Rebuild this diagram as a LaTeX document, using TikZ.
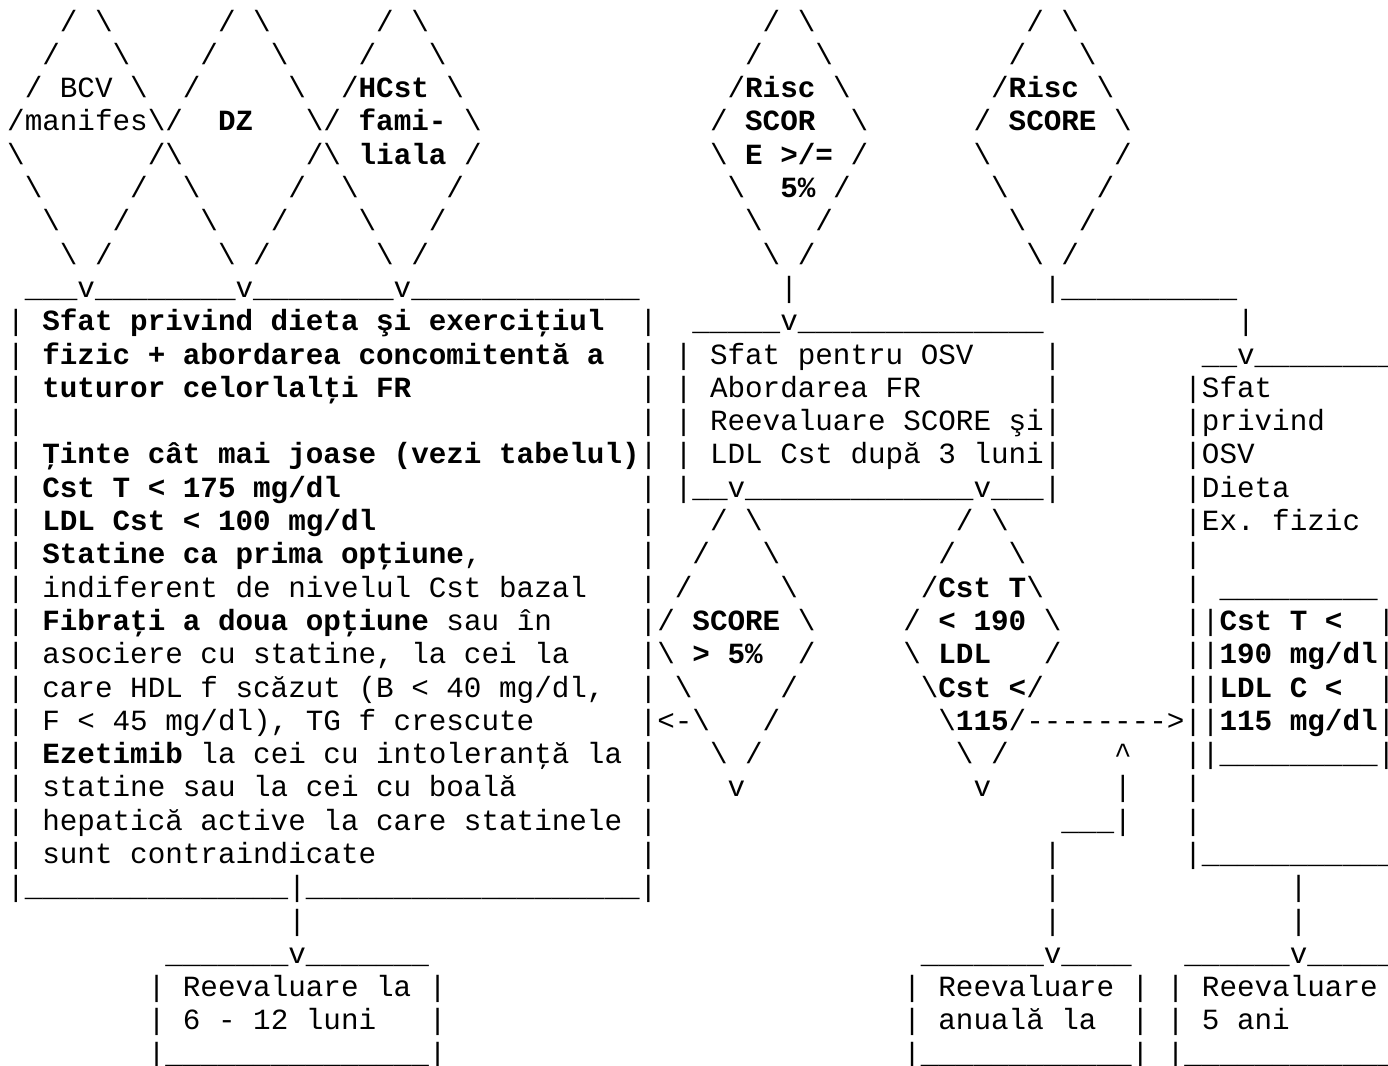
\documentclass[tikz,border=0pt]{standalone}
\usepackage{fontspec}
\setmonofont{Liberation Mono}
\newcommand\bs{\textbackslash}
\ExplSyntaxOn
\NewDocumentCommand\rep{mm}{\prg_replicate:nn{#1}{#2}}
\ExplSyntaxOff
\newcommand\cell[3]{\node[art] (r#1c#2) at (#2,#1) {#3};}

\begin{document}
\begin{tikzpicture}[x=8.785pt, y=-16.65pt]
	\tikzset{art/.style = {anchor=base west, inner sep=0pt, outer sep=0pt,
		font=\ttfamily\fontsize{14.64pt}{16.65pt}\selectfont\frenchspacing}}
	\useasboundingbox (-0.411,-0.931) rectangle (78.589,31.081);

	% decision diamonds at the top
	\cell{0}{3}{/ \bs} \cell{0}{12}{/ \bs} \cell{0}{21}{/ \bs} \cell{0}{43}{/ \bs} \cell{0}{58}{/ \bs}
	\cell{1}{2}{/} \cell{1}{6}{\bs} \cell{1}{11}{/} \cell{1}{15}{\bs} \cell{1}{20}{/} \cell{1}{24}{\bs}
	\cell{1}{42}{/} \cell{1}{46}{\bs} \cell{1}{57}{/} \cell{1}{61}{\bs}
	\cell{2}{1}{/ BCV \bs} \cell{2}{10}{/} \cell{2}{16}{\bs} \cell{2}{19}{/\textbf{HCst} \bs}
	\cell{2}{41}{/\textbf{Risc} \bs} \cell{2}{56}{/\textbf{Risc} \bs}
	\cell{3}{0}{/manifes\bs/} \cell{3}{12}{\textbf{DZ}} \cell{3}{17}{\bs/ \textbf{fami-} \bs}
	\cell{3}{40}{/ \textbf{SCOR}} \cell{3}{48}{\bs} \cell{3}{55}{/ \textbf{SCORE} \bs}
	\cell{4}{0}{\bs} \cell{4}{8}{/\bs} \cell{4}{17}{/\bs{} \textbf{liala} /}
	\cell{4}{40}{\bs{} \textbf{E >/=} /} \cell{4}{55}{\bs} \cell{4}{63}{/}
	\cell{5}{1}{\bs} \cell{5}{7}{/} \cell{5}{10}{\bs} \cell{5}{16}{/} \cell{5}{19}{\bs} \cell{5}{25}{/}
	\cell{5}{41}{\bs} \cell{5}{44}{\textbf{5\%} /} \cell{5}{56}{\bs} \cell{5}{62}{/}
	\cell{6}{2}{\bs} \cell{6}{6}{/} \cell{6}{11}{\bs} \cell{6}{15}{/} \cell{6}{20}{\bs} \cell{6}{24}{/}
	\cell{6}{42}{\bs} \cell{6}{46}{/} \cell{6}{57}{\bs} \cell{6}{61}{/}
	\cell{7}{3}{\bs{} /} \cell{7}{12}{\bs{} /} \cell{7}{21}{\bs{} /} \cell{7}{43}{\bs{} /} \cell{7}{58}{\bs{} /}
	\cell{8}{1}{\rep{3}{\_}v\rep{8}{\_}v\rep{8}{\_}v\rep{13}{\_}} \cell{8}{44}{|} \cell{8}{59}{|\rep{10}{\_}}

	% main box, first advice box, right box
	\cell{9}{0}{| \textbf{Sfat privind dieta şi exerciţiul}} \cell{9}{36}{|}
	\cell{9}{39}{\rep{5}{\_}v\rep{14}{\_}} \cell{9}{70}{|}
	\cell{10}{0}{| \textbf{fizic + abordarea concomitentă a}} \cell{10}{36}{| | Sfat pentru OSV}
	\cell{10}{59}{|} \cell{10}{68}{\_\_v\rep{8}{\_}}
	\cell{11}{0}{| \textbf{tuturor celorlalţi FR}} \cell{11}{36}{| | Abordarea FR} \cell{11}{59}{|} \cell{11}{67}{|Sfat}
	\cell{12}{0}{|} \cell{12}{36}{| | Reevaluare SCORE şi|} \cell{12}{67}{|privind}
	\cell{13}{0}{| \textbf{Ţinte cât mai joase (vezi tabelul)}| | LDL Cst după 3 luni|} \cell{13}{67}{|OSV}
	\cell{14}{0}{| \textbf{Cst T < 175 mg/dl}} \cell{14}{36}{| |\_\_v\rep{13}{\_}v\_\_\_|} \cell{14}{67}{|Dieta}
	\cell{15}{0}{| \textbf{LDL Cst < 100 mg/dl}} \cell{15}{36}{|} \cell{15}{40}{/ \bs} \cell{15}{54}{/ \bs}
	\cell{15}{67}{|Ex. fizic}
	\cell{16}{0}{| \textbf{Statine ca prima opţiune},} \cell{16}{36}{|} \cell{16}{39}{/} \cell{16}{43}{\bs}
	\cell{16}{53}{/} \cell{16}{57}{\bs} \cell{16}{67}{|}
	\cell{17}{0}{| indiferent de nivelul Cst bazal} \cell{17}{36}{| /} \cell{17}{44}{\bs}
	\cell{17}{52}{/\textbf{Cst T}\bs} \cell{17}{67}{|} \cell{17}{69}{\rep{9}{\_}}
	\cell{18}{0}{| \textbf{Fibraţi a doua opţiune} sau în} \cell{18}{36}{|/ \textbf{SCORE} \bs}
	\cell{18}{51}{/ \textbf{< 190} \bs} \cell{18}{67}{||\textbf{Cst T <}} \cell{18}{78}{|}
	\cell{19}{0}{| asociere cu statine, la cei la} \cell{19}{36}{|\bs{} \textbf{> 5\%}} \cell{19}{45}{/}
	\cell{19}{51}{\bs{} \textbf{LDL}} \cell{19}{59}{/} \cell{19}{67}{||\textbf{190 mg/dl}|}
	\cell{20}{0}{| care HDL f scăzut (B < 40 mg/dl,} \cell{20}{36}{| \bs} \cell{20}{44}{/}
	\cell{20}{52}{\bs\textbf{Cst <}/} \cell{20}{67}{||\textbf{LDL C <}} \cell{20}{78}{|}
	\cell{21}{0}{| F < 45 mg/dl), TG f crescute} \cell{21}{36}{|<-\bs} \cell{21}{43}{/}
	\cell{21}{53}{\bs\textbf{115}/\rep{8}{-}>||\textbf{115 mg/dl}|}
	\cell{22}{0}{| \textbf{Ezetimib} la cei cu intoleranţă la} \cell{22}{36}{|} \cell{22}{40}{\bs{} /}
	\cell{22}{54}{\bs{} /} \cell{22}{63}{\textasciicircum} \cell{22}{67}{||\rep{9}{\_}|}
	\cell{23}{0}{| statine sau la cei cu boală} \cell{23}{36}{|} \cell{23}{41}{v} \cell{23}{55}{v}
	\cell{23}{63}{|} \cell{23}{67}{|}
	\cell{24}{0}{| hepatică active la care statinele} \cell{24}{36}{|} \cell{24}{60}{\_\_\_|} \cell{24}{67}{|}
	\cell{25}{0}{| sunt contraindicate} \cell{25}{36}{|} \cell{25}{59}{|} \cell{25}{67}{|\rep{11}{\_}}
	\cell{26}{0}{|\rep{15}{\_}|\rep{19}{\_}|} \cell{26}{59}{|} \cell{26}{73}{|}
	\cell{27}{16}{|} \cell{27}{59}{|} \cell{27}{73}{|}

	% reevaluation boxes
	\cell{28}{9}{\rep{7}{\_}v\rep{7}{\_}} \cell{28}{52}{\rep{7}{\_}v\rep{4}{\_}} \cell{28}{67}{\rep{6}{\_}v\rep{5}{\_}}
	\cell{29}{8}{| Reevaluare la |} \cell{29}{51}{| Reevaluare |} \cell{29}{66}{| Reevaluare}
	\cell{30}{8}{| 6 - 12 luni} \cell{30}{24}{|} \cell{30}{51}{| anuală la} \cell{30}{64}{|} \cell{30}{66}{| 5 ani}
	\cell{31}{8}{|\rep{15}{\_}|} \cell{31}{51}{|\rep{12}{\_}|} \cell{31}{66}{|\rep{12}{\_}}
\end{tikzpicture}
\end{document}
